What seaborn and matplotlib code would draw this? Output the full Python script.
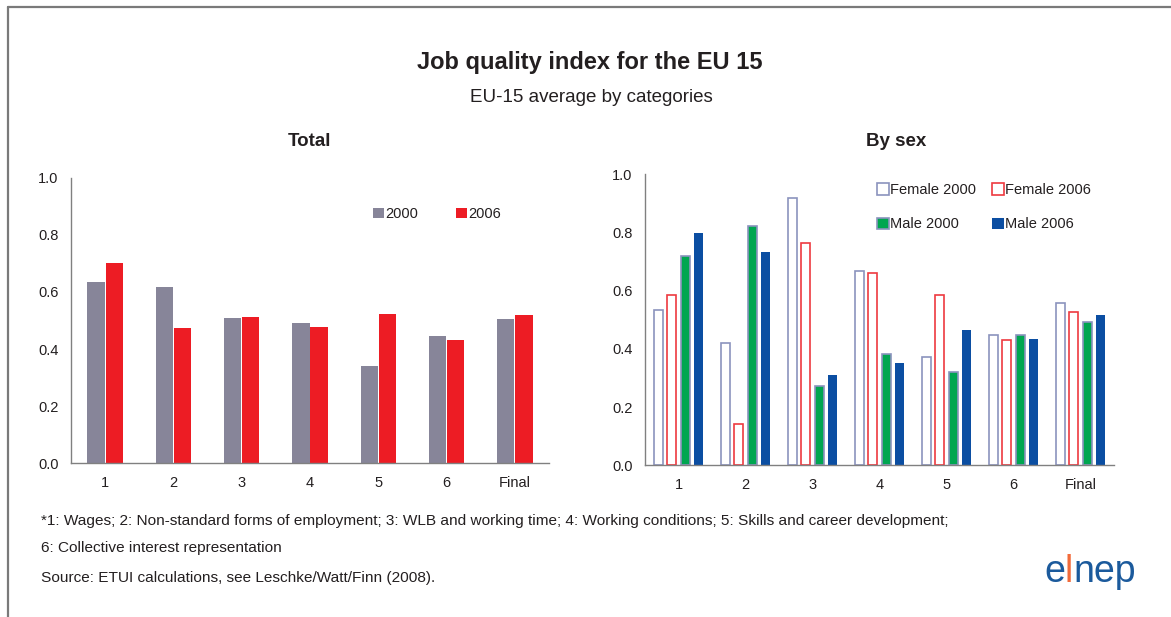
import matplotlib
matplotlib.use("Agg")
import matplotlib.pyplot as plt
from matplotlib.lines import Line2D
from matplotlib.patches import Patch
import seaborn as sns
import pandas as pd

# ---- data -------------------------------------------------------------
categories = ["1", "2", "3", "4", "5", "6", "Final"]

total_2000 = [0.635, 0.617, 0.509, 0.491, 0.341, 0.446, 0.505]
total_2006 = [0.701, 0.474, 0.512, 0.477, 0.523, 0.432, 0.519]

female_2000 = [0.535, 0.419, 0.920, 0.667, 0.371, 0.448, 0.559]
female_2006 = [0.584, 0.141, 0.763, 0.662, 0.586, 0.432, 0.528]
male_2000 = [0.718, 0.822, 0.273, 0.384, 0.321, 0.448, 0.493]
male_2006 = [0.798, 0.733, 0.309, 0.352, 0.465, 0.434, 0.517]

yticks = [0.0, 0.2, 0.4, 0.6, 0.8, 1.0]
ytick_labels = ["0.0", "0.2", "0.4", "0.6", "0.8", "1.0"]

footnotes = [
    "*1: Wages; 2: Non-standard forms of employment; 3: WLB and working time; "
    "4: Working conditions; 5: Skills and career development;",
    "6: Collective interest representation",
    "Source: ETUI calculations, see Leschke/Watt/Finn (2008).",
]

# ---- style ------------------------------------------------------------
sns.set_style("white")
plt.rcParams["font.family"] = ["Liberation Sans", "DejaVu Sans"]
TXT = "#231f20"
AXC = "#808080"

GREY = "#878599"
RED = "#ed1c24"
F00_EDGE = "#8b93bd"
F06_EDGE = "#ee3a40"
GREEN = "#00a650"
BLUE = "#0b4ea2"

W, H = 1171, 617
fig = plt.figure(figsize=(W / 100, H / 100), dpi=100)
fig.patch.set_facecolor("white")


def px_rect(x0, y_top, x1, y_bot):
    return [x0 / W, 1 - y_bot / H, (x1 - x0) / W, (y_bot - y_top) / H]


def style_axes(ax):
    ax.set_ylim(0, 1.0)
    ax.set_xlim(-0.5, len(categories) - 0.5)
    for s in ("top", "right"):
        ax.spines[s].set_visible(False)
    for s in ("left", "bottom"):
        ax.spines[s].set_color(AXC)
        ax.spines[s].set_linewidth(1.0)
    ax.set_yticks(yticks)
    ax.set_yticklabels(ytick_labels)
    # boundary ticks between categories, labels at the centres
    ax.set_xticks([i - 0.5 for i in range(len(categories) + 1)])
    ax.set_xticklabels([])
    ax.set_xticks(range(len(categories)), minor=True)
    ax.set_xticklabels(categories, minor=True)
    ax.tick_params(axis="x", which="major", direction="out", length=4,
                   color=AXC, width=1.0)
    ax.tick_params(axis="x", which="minor", length=0, pad=9,
                   labelsize=10.5, labelcolor=TXT)
    ax.tick_params(axis="y", direction="out", length=4, color=AXC,
                   width=1.0, labelsize=10.5, labelcolor=TXT, pad=5)
    ax.set_xlabel("")
    ax.set_ylabel("")
    ax.grid(False)


# ---- left panel: total ------------------------------------------------
df_total = pd.DataFrame({
    "category": categories * 2,
    "value": total_2000 + total_2006,
    "year": ["2000"] * len(categories) + ["2006"] * len(categories),
})
ax1 = fig.add_axes(px_rect(71, 177.7, 549, 463.3))
sns.barplot(data=df_total, x="category", y="value", hue="year",
            order=categories, hue_order=["2000", "2006"],
            palette=[GREY, RED], width=0.53, gap=0.05, saturation=1,
            legend=False, ax=ax1)
for bar_set in ax1.containers:
    for p in bar_set:
        p.set_linewidth(0)
style_axes(ax1)
ax1.legend(handles=[Patch(facecolor=GREY, edgecolor="none"),
                    Patch(facecolor=RED, edgecolor="none")],
           labels=["2000", "2006"], ncol=2, frameon=False,
           loc="upper left", bbox_to_anchor=(373 / W, 1 - 207 / H),
           bbox_transform=fig.transFigure, borderpad=0, borderaxespad=0,
           handlelength=0.75, handleheight=0.75, handletextpad=0.1,
           columnspacing=2.6, fontsize=10.5, labelcolor=TXT)

# ---- right panel: by sex ----------------------------------------------
series = ["Female 2000", "Female 2006", "Male 2000", "Male 2006"]
values = [female_2000, female_2006, male_2000, male_2006]
df_sex = pd.DataFrame({
    "category": categories * len(series),
    "value": sum(values, []),
    "series": sum([[s] * len(categories) for s in series], []),
})
faces = ["white", "white", GREEN, BLUE]
edges = [F00_EDGE, F06_EDGE, F00_EDGE, BLUE]
lws = [1.2, 1.2, 1.2, 0]

ax2 = fig.add_axes(px_rect(645, 174.3, 1114, 465.3))
sns.barplot(data=df_sex, x="category", y="value", hue="series",
            order=categories, hue_order=series,
            palette=faces, width=0.8, gap=0.33, saturation=1,
            legend=False, ax=ax2)
for bar_set, fc, ec, lw in zip(ax2.containers, faces, edges, lws):
    for p in bar_set:
        p.set_facecolor(fc)
        p.set_edgecolor(ec)
        p.set_linewidth(lw)
style_axes(ax2)
handles = [Patch(facecolor=fc, edgecolor=ec, linewidth=max(lw, 0.01))
           for fc, ec, lw in zip(faces, edges, lws)]
# legend is filled column by column: reorder so rows read Female / Male
leg_order = [0, 2, 1, 3]
ax2.legend(handles=[handles[i] for i in leg_order],
           labels=[series[i] for i in leg_order], ncol=2, frameon=False,
           loc="upper left", bbox_to_anchor=(877 / W, 1 - 183 / H),
           bbox_transform=fig.transFigure, borderpad=0, borderaxespad=0,
           handlelength=0.8, handleheight=0.8, handletextpad=0.1,
           columnspacing=1.1, labelspacing=1.4, fontsize=10.5,
           labelcolor=TXT)

# ---- titles -----------------------------------------------------------
fig.text(590 / W, 1 - 63 / H, "Job quality index for the EU 15",
         ha="center", va="center", fontsize=17, fontweight="bold",
         color=TXT)
fig.text(591 / W, 1 - 98 / H, "EU-15 average by categories",
         ha="center", va="center", fontsize=13.5, color=TXT)
fig.text(309 / W, 1 - 141 / H, "Total", ha="center", va="center",
         fontsize=13.5, fontweight="bold", color=TXT)
fig.text(896 / W, 1 - 141 / H, "By sex", ha="center", va="center",
         fontsize=13.5, fontweight="bold", color=TXT)

# ---- footnotes --------------------------------------------------------
for txt, y in zip(footnotes, [521, 548, 578]):
    fig.text(41 / W, 1 - y / H, txt, ha="left", va="center",
             fontsize=11.1, color=TXT)

# ---- logo -------------------------------------------------------------
LOGO_BLUE = "#1b5a9c"
LOGO_ORANGE = "#f26b3a"
ax_logo = fig.add_axes([0, 0, 1, 1], facecolor="none")
ax_logo.set_axis_off()
prev = ax_logo.text(1044 / W, 1 - 582 / H, "e", ha="left",
                    va="baseline", fontsize=27, color=LOGO_BLUE,
                    transform=fig.transFigure)
for piece, col in [("l", LOGO_ORANGE), ("nep", LOGO_BLUE)]:
    prev = ax_logo.annotate(piece, xy=(1, 0), xycoords=prev,
                            ha="left", va="bottom", fontsize=27, color=col)

# ---- outer frame ------------------------------------------------------
fig.add_artist(Line2D([7.5 / W, 1.0], [1 - 6.5 / H, 1 - 6.5 / H],
                      transform=fig.transFigure, color="#7a7a7a", lw=1.6))
fig.add_artist(Line2D([7.5 / W, 7.5 / W], [0, 1 - 6.5 / H],
                      transform=fig.transFigure, color="#7a7a7a", lw=1.6))

fig.savefig("out.png", dpi=100, facecolor="white")
